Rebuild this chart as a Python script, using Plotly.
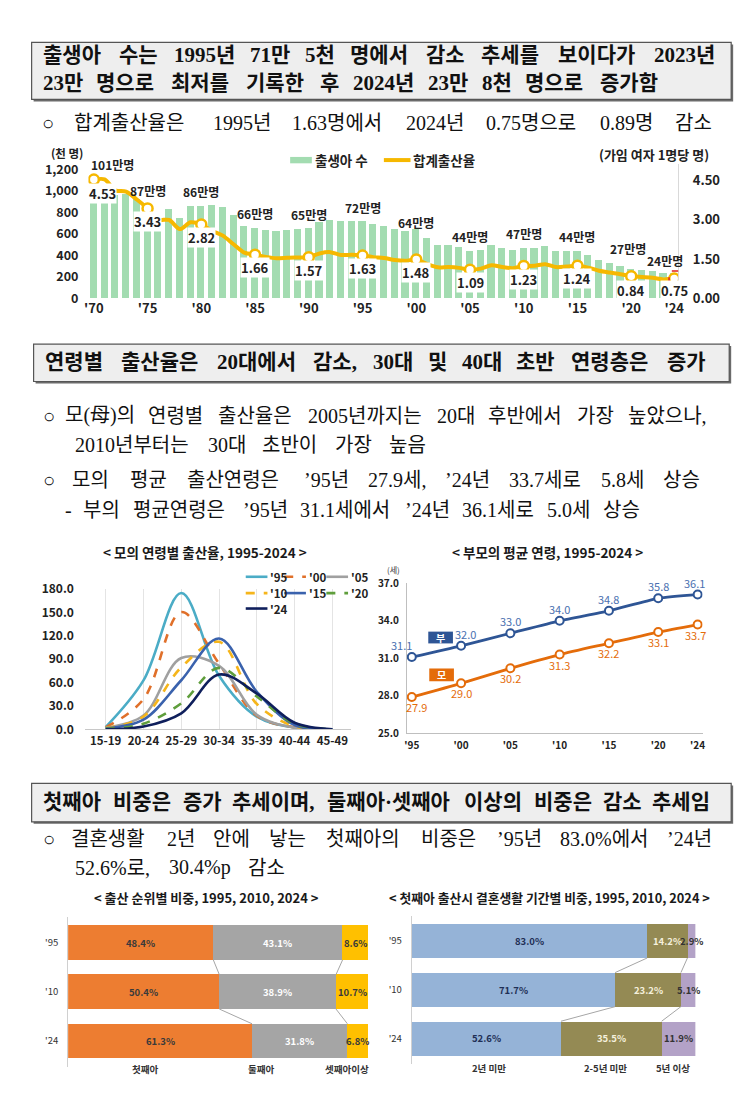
import plotly.graph_objects as go

W, H = 751, 1105
def X(px): return px / W
def Y(py): return 1 - py / H

CJK = "Noto Sans CJK KR"
SERIF = "Liberation Serif, Noto Sans CJK KR, serif"

# ---------------- data ----------------
years = list(range(1970, 2025))
births = [1007, 1025, 957, 968, 924, 874, 797, 826, 751, 863,
          863, 868, 849, 770, 675, 655, 637, 624, 634, 640,
          650, 710, 731, 716, 721, 715, 691, 675, 642, 621,
          640, 560, 497, 495, 477, 438, 452, 497, 466, 445,
          470, 471, 485, 437, 435, 438, 406, 358, 327, 303,
          272, 261, 249, 230, 238]
tfr = [4.53, 4.54, 4.12, 4.07, 3.77, 3.43, 3.00, 2.99, 2.64, 2.90,
       2.82, 2.57, 2.39, 2.06, 1.74, 1.66, 1.58, 1.53, 1.55, 1.56,
       1.57, 1.71, 1.76, 1.65, 1.66, 1.63, 1.57, 1.54, 1.46, 1.43,
       1.48, 1.31, 1.18, 1.19, 1.16, 1.09, 1.13, 1.26, 1.19, 1.15,
       1.23, 1.24, 1.30, 1.19, 1.21, 1.24, 1.17, 1.05, 0.98, 0.92,
       0.84, 0.81, 0.78, 0.72, 0.75]
label_years = [1970, 1975, 1980, 1985, 1990, 1995, 2000, 2005, 2010, 2015, 2020, 2024]
label_ticks = ["'70", "'75", "'80", "'85", "'90", "'95", "'00", "'05", "'10", "'15", "'20", "'24"]

age_groups = ["15-19", "20-24", "25-29", "30-34", "35-39", "40-44", "45-49"]
asfr_names = ["'95", "'00", "'05", "'10", "'15", "'20", "'24"]
asfr_95 = [3.0, 62.9, 175.0, 68.8, 16.3, 2.6, 0.3]
asfr_00 = [2.5, 38.8, 150.6, 84.3, 17.5, 2.6, 0.2]
asfr_05 = [2.2, 17.8, 91.7, 81.5, 18.7, 2.1, 0.1]
asfr_10 = [1.8, 16.5, 79.7, 112.4, 32.6, 4.1, 0.2]
asfr_15 = [1.4, 12.5, 63.1, 116.7, 48.3, 5.6, 0.2]
asfr_20 = [0.7, 7.4, 33.4, 79.0, 42.3, 7.3, 0.2]
asfr_24 = [0.3, 3.7, 20.7, 70.4, 46.0, 8.6, 0.2]

parent_years = [1995, 2000, 2005, 2010, 2015, 2020, 2024]
parent_ticks = ["'95", "'00", "'05", "'10", "'15", "'20", "'24"]
father_age = [31.1, 32.0, 33.0, 34.0, 34.8, 35.8, 36.1]
mother_age = [27.9, 29.0, 30.2, 31.3, 32.2, 33.1, 33.7]

share_years = ["'95", "'10", "'24"]
order_first = [48.4, 50.4, 61.3]
order_second = [43.1, 38.9, 31.8]
order_third = [8.6, 10.7, 6.8]
order_names = ["첫째아", "둘째아", "셋째아이상"]

dur_lt2 = [83.0, 71.7, 52.6]
dur_2to5 = [14.2, 23.2, 35.5]
dur_ge5 = [2.9, 5.1, 11.9]
dur_names = ["2년 미만", "2-5년 미만", "5년 이상"]

# ---------------- figure ----------------
fig = go.Figure()
ann = []
shapes = []

GREEN = '#a3dcb1'
GOLD = '#f6b800'

def ptext(txt, cx, cy, size, color='#222', bold=True, anchor='center', family=CJK):
    ann.append(dict(x=X(cx), y=Y(cy), xref='paper', yref='paper', text=txt, showarrow=False,
                    xanchor=anchor, yanchor='middle',
                    font=dict(family=family, size=size, color=color, weight='bold' if bold else 'normal')))

# top chart
fig.add_trace(go.Bar(x=years, y=births, width=0.67, marker=dict(color=GREEN, line_width=0),
                     xaxis='x', yaxis='y'))
fig.add_trace(go.Scatter(x=years, y=tfr, mode='lines', xaxis='x', yaxis='y2',
                         line=dict(color=GOLD, width=4, shape='spline', smoothing=0.8)))
lab_idx = [years.index(v) for v in label_years]
fig.add_trace(go.Scatter(x=label_years, y=[tfr[i] for i in lab_idx], mode='markers', xaxis='x', yaxis='y2',
                         marker=dict(color='white', size=10, line=dict(color=GOLD, width=2.5))))

shapes.append(dict(type='rect', xref='x', yref='y', x0=2024 - 0.48, x1=2024 + 0.48, y0=0, y1=births[-1] + 15,
                   line=dict(color='#e02020', width=1.5, dash='dash'), fillcolor='rgba(0,0,0,0)', layer='above'))

count_shift = {1970: (19, 15), 2000: (0, -3), 2020: (-3, 10), 2024: (-9, 2)}
tfr_shift = {1970: (9, -14), 2020: (0, -14), 2024: (0, -12)}
for yr, i in zip(label_years, lab_idx):
    xs, ys = count_shift.get(yr, (0, 4))
    ann.append(dict(x=yr, y=births[i], xref='x', yref='y', text=f"{round(births[i] / 10)}만명",
                    showarrow=False, xanchor='center', yanchor='bottom', xshift=xs, yshift=ys,
                    font=dict(family=CJK, size=12, color='#222', weight='bold')))
    xs, ys = tfr_shift.get(yr, (0, -13))
    ann.append(dict(x=yr, y=tfr[i], xref='x', yref='y2', text=f"{tfr[i]:.2f}",
                    showarrow=False, xanchor='center', yanchor='middle', xshift=xs, yshift=ys,
                    bgcolor='white', borderpad=0,
                    font=dict(family=CJK, size=13, color='#222', weight='bold')))

# top legend & units
shapes.append(dict(type='rect', xref='paper', yref='paper', x0=X(290), x1=X(312), y0=Y(156), y1=Y(149.5),
                   fillcolor=GREEN, line_width=0))
ptext("출생아 수", 313.5, 152.7, 13.5, anchor='left')
shapes.append(dict(type='line', xref='paper', yref='paper', x0=X(385), x1=X(412), y0=Y(152.7), y1=Y(152.7),
                   line=dict(color=GOLD, width=4)))
ptext("합계출산율", 412.5, 152.7, 13.5, anchor='left')
ptext("(천 명)", 63.5, 145, 11.5)
ptext("(가임 여자 1명당 명)", 658.5, 146.7, 13)

# middle left: ASFR curves
asfr_series = [asfr_95, asfr_00, asfr_05, asfr_10, asfr_15, asfr_20, asfr_24]
asfr_colors = ['#4bacc6', '#e0702a', '#a0a0a0', '#f5b51b', '#3a62ad', '#5f9e3c', '#0f1f5c']
asfr_dash = ['solid', 'dash', 'solid', 'dash', 'solid', 'dash', 'solid']
for name, vals, col, dsh in zip(asfr_names, asfr_series, asfr_colors, asfr_dash):
    fig.add_trace(go.Scatter(x=age_groups, y=vals, mode='lines', name=name, xaxis='x2', yaxis='y3',
                             line=dict(color=col, width=2.6, dash=dsh, shape='spline', smoothing=1.0)))

leg_pos = [(245, 576.7), (284, 576.7), (326.7, 576.7), (245, 593.3), (284, 593.3), (326.7, 593.3), (245, 609)]
for name, col, dsh, (lx, ly) in zip(asfr_names, asfr_colors, asfr_dash, leg_pos):
    shapes.append(dict(type='line', xref='paper', yref='paper', x0=X(lx), x1=X(lx + 22), y0=Y(ly), y1=Y(ly),
                       line=dict(color=col, width=2.6, dash='dash' if dsh == 'dash' else 'solid')))
    ptext(name, lx + 23, ly, 11.5, anchor='left')

# middle right: parents' mean age
BLUE = '#2e5595'
ORANGE = '#e46c0a'
fig.add_trace(go.Scatter(x=parent_years, y=father_age, mode='lines+markers', xaxis='x3', yaxis='y4',
                         line=dict(color=BLUE, width=2.8, shape='spline', smoothing=0.6),
                         marker=dict(color='white', size=8, line=dict(color=BLUE, width=2))))
fig.add_trace(go.Scatter(x=parent_years, y=mother_age, mode='lines+markers', xaxis='x3', yaxis='y4',
                         line=dict(color=ORANGE, width=2.8, shape='spline', smoothing=0.6),
                         marker=dict(color='white', size=8, line=dict(color=ORANGE, width=2))))
f_shift = {1995: -10, 2000: 4, 2024: -3}
m_shift = {1995: 5, 2024: -2}
for yr, fa, ma in zip(parent_years, father_age, mother_age):
    ann.append(dict(x=yr, y=fa, xref='x3', yref='y4', text=f"{fa:.1f}", showarrow=False, xanchor='center',
                    yanchor='middle', yshift=12, xshift=f_shift.get(yr, 0),
                    font=dict(family=CJK, size=11, color='#4a70b0')))
    ann.append(dict(x=yr, y=ma, xref='x3', yref='y4', text=f"{ma:.1f}", showarrow=False, xanchor='center',
                    yanchor='middle', yshift=-10, xshift=m_shift.get(yr, 0),
                    font=dict(family=CJK, size=11, color=ORANGE)))
shapes.append(dict(type='rect', xref='paper', yref='paper', x0=X(430), x1=X(455), y0=Y(644.5), y1=Y(632.5),
                   fillcolor=BLUE, line_width=0))
ptext("부", 442.5, 638.5, 10, color='white')
shapes.append(dict(type='rect', xref='paper', yref='paper', x0=X(431), x1=X(456), y0=Y(683), y1=Y(670),
                   fillcolor=ORANGE, line_width=0))
ptext("모", 443.5, 676.5, 10, color='white')
ptext("(세)", 395, 569.3, 8, color='#333', bold=False)

# bottom stacked bars
def stacked(xa, ya, series, colors, txtcolors):
    base = [0.0] * len(share_years)
    for vals, col, tc in zip(series, colors, txtcolors):
        fig.add_trace(go.Bar(y=list(range(len(share_years))), x=vals, orientation='h', width=0.7,
                             marker=dict(color=col, line_width=0), xaxis=xa, yaxis=ya))
        for k, v in enumerate(vals):
            ann.append(dict(x=base[k] + v / 2, y=k, xref=xa, yref=ya, text=f"{v:.1f}%", showarrow=False,
                            xanchor='center', yanchor='middle',
                            font=dict(family=CJK, size=9.5, color=tc, weight='bold')))
        base = [b + v for b, v in zip(base, vals)]
    cum = [0.0] * len(share_years)
    for vals in series[:-1]:
        cum = [c + v for c, v in zip(cum, vals)]
        for k in range(len(share_years) - 1):
            shapes.append(dict(type='line', xref=xa, yref=ya, x0=cum[k], y0=k + 0.35, x1=cum[k + 1], y1=k + 0.65,
                               line=dict(color='#a6a6a6', width=1)))

stacked('x4', 'y5', [order_first, order_second, order_third], ['#ed7d31', '#a5a5a5', '#ffc000'],
        ['#3a3a3a', '#ffffff', '#3a3a3a'])
stacked('x5', 'y6', [dur_lt2, dur_2to5, dur_ge5], ['#95b3d7', '#948a54', '#b3a2c7'],
        ['#1f2f55', '#f4f0dc', '#333333'])

for name, px in zip(order_names, [143, 260, 348]):
    ptext(name, px, 1078, 9.5, color='#333')
for name, px in zip(dur_names, [491.7, 610, 678]):
    ptext(name, px, 1077, 9.5, color='#333')

# chart titles
ptext("< 모의 연령별 출산율, 1995-2024 >", 204, 551.7, 13.5, color='#1a1a1a')
ptext("< 부모의 평균 연령, 1995-2024 >", 551, 551.7, 13.5, color='#1a1a1a')
ptext("< 출산 순위별 비중, 1995, 2010, 2024 >", 205, 902.7, 13, color='#1a1a1a')
ptext("< 첫째아 출산시 결혼생활 기간별 비중, 1995, 2010, 2024 >", 553, 903.3, 12.8, color='#1a1a1a')

# headline boxes
for (x0, y0, x1, y1) in [(28, 33, 737, 91), (30, 340, 735, 378), (28, 787, 737, 826)]:
    shapes.append(dict(type='rect', xref='paper', yref='paper', x0=X(x0 + 2), x1=X(x1 + 2), y0=Y(y1 + 2), y1=Y(y0 + 2),
                       fillcolor='#6b6b6b', line_width=0, layer='below'))
    shapes.append(dict(type='rect', xref='paper', yref='paper', x0=X(x0), x1=X(x1), y0=Y(y1), y1=Y(y0),
                       fillcolor='#eeeeee', line=dict(color='#555555', width=1.2), layer='below'))

# body text, justified word by word
def cw(ch, bold):
    o = ord(ch)
    if 0xAC00 <= o <= 0xD7AF or 0x4E00 <= o <= 0x9FFF or 0x3130 <= o <= 0x318F:
        return 1.0
    table = {'.': 0.25, ',': 0.25, '%': 1.0 if bold else 0.833, '’': 0.333, '(': 0.333, ')': 0.333,
             '-': 0.333, '○': 0.604, '·': 0.25, 'p': 0.556 if bold else 0.5}
    return table.get(ch, 0.5)

text_lines = [
    ("출생아 수는 1995년 71만 5천 명에서 감소 추세를 보이다가 2023년", 37, 720, 46, 21, True),
    ("23만 명으로 최저를 기록한 후 2024년 23만 8천 명으로 증가함", 37, 665, 74, 21, True),
    ("○ 합계출산율은 1995년 1.63명에서 2024년 0.75명으로 0.89명 감소", 36, 718, 115, 20, False),
    ("연령별 출산율은 20대에서 감소, 30대 및 40대 초반 연령층은 증가", 40, 712, 358, 21, True),
    ("○ 모(母)의 연령별 출산율은 2005년까지는 20대 후반에서 가장 높았으나,", 37, 715, 413, 20, False),
    ("2010년부터는 30대 초반이 가장 높음", 70, 428, 443, 20, False),
    ("○ 모의 평균 출산연령은 ’95년 27.9세, ’24년 33.7세로 5.8세 상승", 37, 706, 478, 20, False),
    ("- 부의 평균연령은 ’95년 31.1세에서 ’24년 36.1세로 5.0세 상승", 60, 645, 509, 20, False),
    ("첫째아 비중은 증가 추세이며, 둘째아·셋째아 이상의 비중은 감소 추세임", 38, 718, 806, 21, True),
    ("○ 결혼생활 2년 안에 낳는 첫째아의 비중은 ’95년 83.0%에서 ’24년", 37, 717, 843, 20, False),
    ("52.6%로, 30.4%p 감소", 70, 285, 873, 20, False),
]
for txt, x0, x1, yc, sz, bold in text_lines:
    words = txt.split(' ')
    widths = [sum(cw(c, bold) for c in w) * sz for w in words]
    gap = (x1 - x0 - sum(widths)) / max(len(words) - 1, 1)
    pos = x0
    for w, wd in zip(words, widths):
        ptext(w, pos, yc, sz, color='#111111', bold=bold, anchor='left', family=SERIF)
        pos += wd + gap

tick_font = lambda s: dict(family=CJK, size=s, color='#222', weight='bold')
fig.update_layout(
    width=W, height=H, margin=dict(l=0, r=0, t=0, b=0), paper_bgcolor='white', plot_bgcolor='rgba(0,0,0,0)',
    showlegend=False, barmode='stack', bargap=0,
    xaxis=dict(domain=[X(85.6), X(683.3)], range=[1969.5, 2024.37], anchor='y', tickvals=label_years,
               ticktext=label_ticks, showgrid=False, zeroline=False, showline=False, tickfont=tick_font(13),
               ticklabelstandoff=1),
    yaxis=dict(domain=[Y(293.3), Y(156.9)], range=[0, 1250], anchor='x', tickvals=list(range(0, 1201, 200)),
               tickformat=',', showgrid=False, zeroline=False, showline=False, tickfont=tick_font(12.5),
               ticklabelstandoff=9),
    yaxis2=dict(overlaying='y', side='right', anchor='x', range=[0, 5.118], tickvals=[0, 1.5, 3, 4.5],
                tickformat='.2f', showgrid=False, zeroline=False, showline=True, linecolor='#d9d9d9', linewidth=1,
                tickfont=tick_font(13), ticklabelstandoff=11),
    xaxis2=dict(domain=[X(82), X(352)], anchor='y3', type='category', categoryorder='array',
                categoryarray=age_groups, range=[-0.55, 6.5], showgrid=True, gridcolor='#e4e4e4', gridwidth=1,
                showline=True, linecolor='#c8c8c8', linewidth=1, zeroline=False, tickfont=tick_font(11.5),
                ticklabelstandoff=1),
    yaxis3=dict(domain=[Y(732), Y(589.3)], anchor='x2', range=[0, 180], dtick=30, tickformat='.1f',
                showgrid=False, zeroline=False, showline=False, tickfont=tick_font(12), ticklabelstandoff=10),
    xaxis3=dict(domain=[X(408.3), X(708)], anchor='y4', range=[1994.5, 2024.5], tickvals=parent_years,
                ticktext=parent_ticks, showgrid=False, zeroline=False, showline=True, linecolor='#bfbfbf',
                tickfont=tick_font(10), ticklabelstandoff=3),
    yaxis4=dict(domain=[Y(736), Y(583.3)], anchor='x3', range=[25, 37], tickvals=[25, 28, 31, 34, 37],
                tickformat='.1f', showgrid=False, zeroline=False, showline=True, linecolor='#bfbfbf',
                tickfont=tick_font(10), ticklabelstandoff=5),
    xaxis4=dict(domain=[X(65), X(369)], anchor='y5', range=[0, 100], visible=False),
    yaxis5=dict(domain=[Y(1075), Y(923)], anchor='x4', range=[2.52, -0.52], tickvals=[0, 1, 2],
                ticktext=share_years, showgrid=False, zeroline=False, showline=True, linecolor='#d0d0d0',
                tickfont=dict(family=CJK, size=9.5, color='#333'), ticklabelstandoff=7),
    xaxis5=dict(domain=[X(413.3), X(700.7)], anchor='y6', range=[0, 100], visible=False),
    yaxis6=dict(domain=[Y(1072), Y(921.5)], anchor='x5', range=[2.52, -0.52], tickvals=[0, 1, 2],
                ticktext=share_years, showgrid=False, zeroline=False, showline=True, linecolor='#d0d0d0',
                tickfont=dict(family=CJK, size=9.5, color='#333'), ticklabelstandoff=7),
    annotations=ann, shapes=shapes,
)

fig.write_html("out.html", config={'displayModeBar': False},
               post_script="document.body.style.margin='0px';document.body.style.overflow='hidden';")
